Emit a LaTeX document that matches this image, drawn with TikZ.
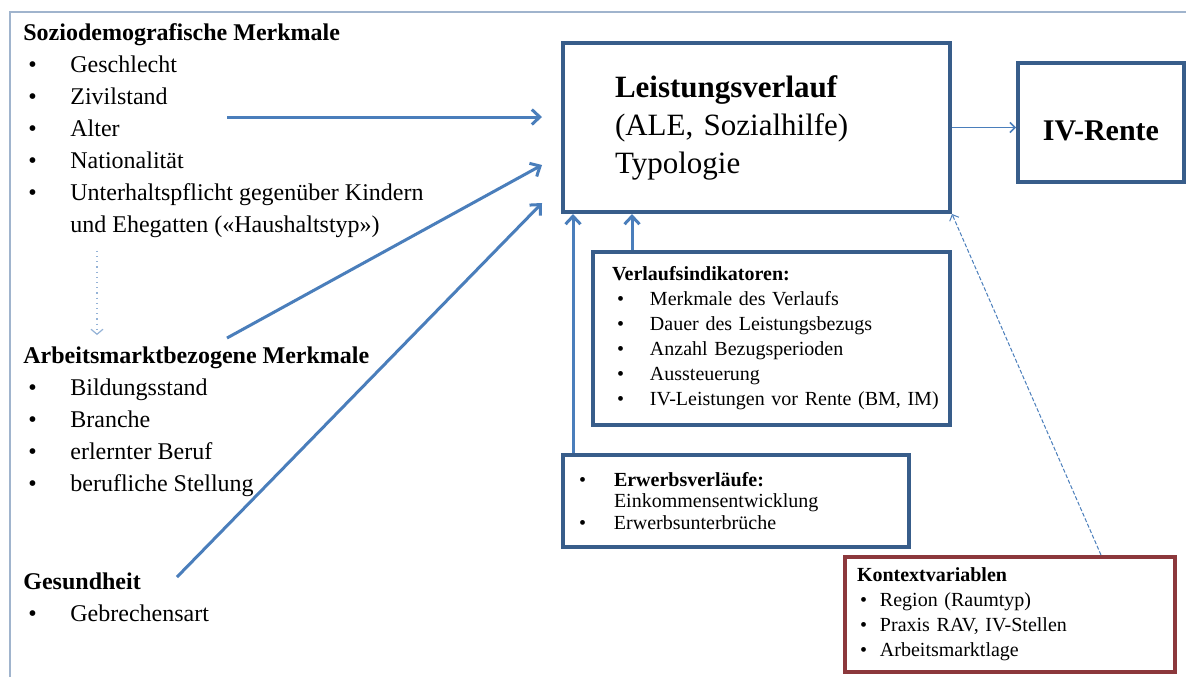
\documentclass[tikz,border=0pt]{standalone}
\usepackage{fontspec}
\setmainfont{Liberation Serif}
\usetikzlibrary{positioning}
\usetikzlibrary{arrows.meta}

\definecolor{boxblue}{RGB}{56,93,138}
\definecolor{arrowblue}{RGB}{74,126,187}
\definecolor{lightblue}{RGB}{149,179,215}
\definecolor{boxred}{RGB}{140,56,60}
\definecolor{framegray}{RGB}{160,180,205}

% bullet: indent, then box width up to the item text
\newcommand{\itm}[2]{\hspace*{#1}\makebox[#2][l]{\textbullet}}

\tikzset{
  infobox/.style={draw=boxblue, line width=2pt, fill=white, align=left, text=black},
  listtext/.style={anchor=north west, inner sep=0pt, align=left, font=\fontsize{12}{16}\selectfont},
  flow/.style={->, draw=arrowblue, line width=1.5pt},
  thinflow/.style={-{Straight Barb[length=2.5pt,width=5pt]}, draw=arrowblue, line width=0.75pt},
}

\begin{document}
\begin{tikzpicture}[x=0.5pt, y=-0.5pt, >={Straight Barb[length=4pt,width=7.5pt]}]
            \useasboundingbox (0,0) rectangle (1186,677);
            \fill[white] (0,0) rectangle (1186,677);
            % Frame (top and left edge only)
            \draw[framegray, line width=0.8pt] (10,677) -- (10,12) -- (1186,12);

            % Left column
            \node[listtext] (socio) at (23,23) {\textbf{Soziodemografische Merkmale}\\
                \itm{2.5pt}{21pt}Geschlecht\\
                \itm{2.5pt}{21pt}Zivilstand\\
                \itm{2.5pt}{21pt}Alter\\
                \itm{2.5pt}{21pt}Nationalität\\
                \itm{2.5pt}{21pt}Unterhaltspflicht gegenüber Kindern\\
                \hspace*{23.5pt}und Ehegatten («Haushaltstyp»)};
            \node[listtext] (arbeit) at (23,346) {\textbf{Arbeitsmarktbezogene Merkmale}\\
                \itm{2.5pt}{21pt}Bildungsstand\\
                \itm{2.5pt}{21pt}Branche\\
                \itm{2.5pt}{21pt}erlernter Beruf\\
                \itm{2.5pt}{21pt}berufliche Stellung};
            \node[listtext] (gesund) at (23,572) {\textbf{Gesundheit}\\
                \itm{2.5pt}{21pt}Gebrechensart};

            % Boxes
            \node[infobox, minimum width=193.5pt, minimum height=84.5pt, text width=141.5pt,
                  inner xsep=26pt, font=\fontsize{15.5}{19}\selectfont] (main) at (756.5,127.5)
                {\textbf{Leistungsverlauf}\\(ALE, Sozialhilfe)\\Typologie};
            \node[infobox, align=center, minimum width=83pt, minimum height=59.5pt,
                  font=\fontsize{15}{18}\selectfont\bfseries, text height=18pt, text depth=0.5pt]
                (iv) at (1101,122.5) {IV-Rente};
            \node[infobox, minimum width=178.5pt, minimum height=86.5pt, text width=159.5pt,
                  inner xsep=9.5pt, font=\fontsize{10}{12.5}\selectfont] (verlauf) at (771.5,338.5)
                {\textbf{Verlaufsindikatoren:}\\
                \itm{2.5pt}{16.5pt}Merkmale des Verlaufs\\
                \itm{2.5pt}{16.5pt}Dauer des Leistungsbezugs\\
                \itm{2.5pt}{16.5pt}Anzahl Bezugsperioden\\
                \itm{2.5pt}{16.5pt}Aussteuerung\\
                \itm{2.5pt}{16.5pt}\mbox{IV-Leistungen vor Rente (BM, IM)}};
            \node[infobox, minimum width=173pt, minimum height=46pt, text width=157pt,
                  inner xsep=8pt, font=\fontsize{10}{10.8}\selectfont] (erwerb) at (736,501)
                {\itm{0pt}{17.5pt}\textbf{Erwerbsverläufe:}\\
                \hspace*{17.5pt}Einkommensentwicklung\\
                \itm{0pt}{17.5pt}Erwerbsunterbrüche};
            \node[infobox, draw=boxred, minimum width=165pt, minimum height=57.5pt, text width=153pt,
                  inner xsep=6pt, font=\fontsize{10}{12.5}\selectfont] (kontext) at (1010,614.5)
                {\textbf{Kontextvariablen}\\
                \itm{1.5pt}{10pt}Region (Raumtyp)\\
                \itm{1.5pt}{10pt}Praxis RAV, IV-Stellen\\
                \itm{1.5pt}{10pt}Arbeitsmarktlage};

            % Arrow ends near the left column
            \coordinate (sozioOut) at (227,117);
            \coordinate (arbeitOut) at (227,338);
            \coordinate (gesundOut) at (177,577);
            \coordinate (mainInA) at (542,117);
            \coordinate (mainInB) at (542,165);
            \coordinate (mainInC) at (542,203);

            % Arrows
            \draw[flow] (sozioOut) -- (mainInA);
            \draw[flow] (arbeitOut) -- (mainInB);
            \draw[flow] (gesundOut) -- (mainInC);
            \draw[flow] ([xshift=6pt]erwerb.north west) -- ([xshift=6pt]main.south west);
            \draw[flow] ([xshift=20.5pt]verlauf.north west) -- ([xshift=35.5pt]main.south west);
            \draw[thinflow] (main.east) -- (main.east -| iv.west);
            \draw[thinflow, line width=0.5pt, dash pattern=on 2pt off 1pt]
                ([xshift=129pt]kontext.north west) -- (main.south east);
            \draw[lightblue, line width=0.6pt, dotted, -{Straight Barb[length=2.5pt,width=6pt]},
                  shorten <=6.5pt, shorten >=5.5pt]
                ([xshift=37pt]socio.south west) -- ([xshift=37pt]arbeit.north west);
        \end{tikzpicture}
\end{document}
